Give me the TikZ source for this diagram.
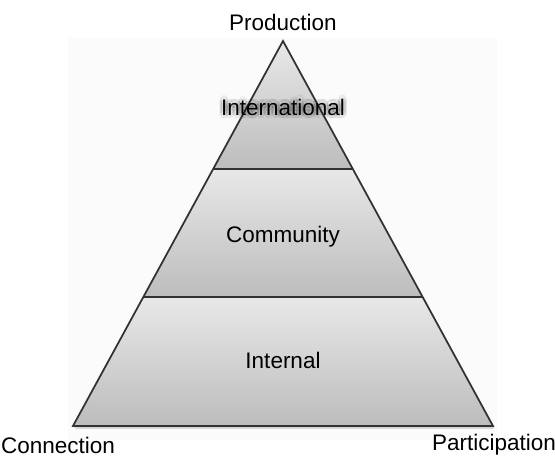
\documentclass[tikz,border=0pt]{standalone}
\usepackage{fontspec}
\setmainfont{Liberation Sans}
\usetikzlibrary{calc}
\definecolor{mygrey}{RGB}{50,50,50}

\begin{document}
\begin{tikzpicture}[font=\fontsize{12.8}{15}\selectfont,
  band/.style={top color=black!9, bottom color=black!26},
  edge/.style={line width=1pt,mygrey}]
\useasboundingbox (0,0) rectangle (11.1,9.16);
\fill[black!1.5] (1.36,0.36) rectangle (9.94,8.4);

\coordinate (apex) at (5.66,8.34);
\coordinate (bl) at (1.46,0.64);
\coordinate (br) at (9.86,0.64);
\coordinate (l1) at ($(apex)!0.3325!(bl)$);
\coordinate (r1) at ($(apex)!0.3325!(br)$);
\coordinate (l2) at ($(apex)!0.665!(bl)$);
\coordinate (r2) at ($(apex)!0.665!(br)$);

% shadow under the base
\fill[black!30,opacity=.5] ($(bl)+(0.06,-0.06)$) -- ($(br)+(0.02,-0.06)$) -- (br) -- (bl) -- cycle;

\shade[band] (apex) -- (r1) -- (l1) -- cycle;
\shade[band] (l1) -- (r1) -- (r2) -- (l2) -- cycle;
\shade[band] (l2) -- (r2) -- (br) -- (bl) -- cycle;

\draw[edge] (apex) -- (br) -- (bl) -- cycle;
\draw[edge] (l1) -- (r1);
\draw[edge] (l2) -- (r2);

% soft halo round the top label
\foreach \a in {0,30,...,330}
  \node[text=black,opacity=.06] at ($(5.66,7.02)+(\a:0.07)$) {International};
\node (intl) at (5.66,7.02) {International};
\node (comm) at (5.66,4.42) {Community};
\node (intn) at (5.66,1.96) {Internal};

\node (prod) at (5.66,8.72) {Production};
\node (conn) at (1.16,0.26) {Connection};
\node (part) at (9.88,0.26) {Participation};

\end{tikzpicture}
\end{document}
